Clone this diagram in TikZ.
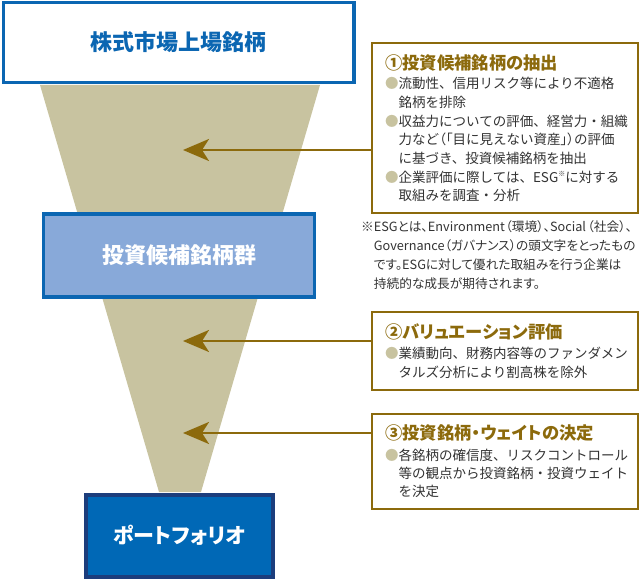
\documentclass[tikz,border=0pt]{standalone}
\usepackage{fontspec}
\usetikzlibrary{arrows.meta}
\newfontfamily\cjk{Noto Sans CJK JP}
\newfontfamily\cjkp{Noto Sans CJK JP}[RawFeature=+palt]
\definecolor{topblue}{HTML}{0B66B2}
\definecolor{midfill}{HTML}{88A9D9}
\definecolor{botfill}{HTML}{0068B6}
\definecolor{botborder}{HTML}{1C3D7C}
\definecolor{funnelc}{HTML}{C8C3A0}
\definecolor{gold}{HTML}{8C6A0C}
\definecolor{txt}{HTML}{333333}
\definecolor{bul}{HTML}{C8C3A0}
\begin{document}
\begin{tikzpicture}[x=1pt,y=-1pt,
  mainbox/.style={rectangle, inner sep=0pt, font=\cjkp\bfseries\fontsize{22}{24}\selectfont},
  infobox/.style={rectangle, draw=gold, line width=2pt, fill=white, inner sep=0pt, minimum width=266.3pt},
  ttl/.style={anchor=west, inner sep=0pt, text=gold, font=\cjkp\bfseries\fontsize{17.3}{20}\selectfont, text height=15.2pt, text depth=2pt},
  body/.style={anchor=west, inner sep=0pt, text=txt, font=\cjk\fontsize{13.5}{16}\selectfont, text height=11.9pt, text depth=1.6pt},
  note/.style={anchor=west, inner sep=0pt, text=txt, font=\cjkp\fontsize{12.7}{15}\selectfont, text height=11.2pt, text depth=1.5pt},
  arr/.style={draw=gold, line width=2.6pt, -{Stealth[length=26pt, width=22pt, inset=7pt]}}
]
\useasboundingbox (0,0) rectangle (640,580);
% funnel
\fill[funnelc] (40,85) -- (320,85) -- (201,492) -- (159,492) -- cycle;

% main boxes
\node[mainbox, draw=topblue, line width=3.3pt, fill=white, text=topblue,
  minimum width=350.7pt, minimum height=79.8pt] (top) at (178.65,42.6) {株式市場上場銘柄};
\node[mainbox, draw=topblue, line width=3.5pt, fill=midfill, text=white,
  minimum width=271.4pt, minimum height=83pt] (mid) at (179,255.5) {投資候補銘柄群};
\node[mainbox, draw=botborder, line width=4pt, fill=botfill, text=white,
  minimum width=187pt, minimum height=82.5pt, font=\cjkp\bfseries\fontsize{21}{24}\selectfont] (bot) at (179.5,535.75) {ポートフォリオ};

% info boxes
\node[infobox, minimum height=170.3pt] (b1) at (504.85,127.85) {};
\node[infobox, minimum height=78.5pt] (b2) at (504.85,350.75) {};
\node[infobox, minimum height=95pt] (b3) at (504.85,461.5) {};

% arrows
\coordinate (t1) at (183,150);
\coordinate (t2) at (183,341);
\coordinate (t3) at (183,433);
\draw[arr] (b1.west |- t1) -- (t1);
\draw[arr] (b2.west |- t2) -- (t2);
\draw[arr] (b3.west |- t3) -- (t3);

% box 1 text
\node[ttl] (h1) at (385,63) {①投資候補銘柄の抽出};
\node[body] (a1) at (385,83.5) {\textcolor{bul}{●}流動性、信用リスク等により不適格};
\node[body] (a2) at (385,102.2) {\phantom{●}銘柄を排除};
\node[body] (a3) at (385,120.9) {\textcolor{bul}{●}収益力についての評価、経営力・組織};
\node[body] (a4) at (385,139.6) {\phantom{●}力など{\addfontfeatures{RawFeature=+palt}（「}目に見えない資産{\addfontfeatures{RawFeature=+palt}」）}の評価};
\node[body] (a5) at (385,158.3) {\phantom{●}に基づき、投資候補銘柄を抽出};
\node[body] (a6) at (385,177) {\textcolor{bul}{●}企業評価に際しては、ESG\raisebox{0.45em}{\fontsize{7}{8}\selectfont ※}に対する};
\node[body] (a7) at (385,195.7) {\phantom{●}取組みを調査・分析};

% footnote
\node[note] (n1) at (361,227) {※ESGとは、Environment\kern0.8pt（環境）、Social\kern1.5pt（社会）、};
\node[note] (n2) at (361,246) {\phantom{※}Governance（ガバナンス）の頭文字をとったもの};
\node[note] (n3) at (361,265) {\phantom{※}です。ESGに対して優れた取組みを行う企業は};
\node[note] (n4) at (361,284) {\phantom{※}持続的な成長が期待されます。};

% box 2 text
\node[ttl] (h2) at (385,332) {②バリュエーション評価};
\node[body] (c1) at (385,353) {\textcolor{bul}{●}業績動向、財務内容等のファンダメン};
\node[body] (c2) at (385,372) {\phantom{●}タルズ分析により割高株を除外};

% box 3 text
\node[ttl] (h3) at (385,433) {③投資銘柄・ウェイトの決定};
\node[body] (d1) at (385,455) {\textcolor{bul}{●}各銘柄の確信度、リスクコントロール};
\node[body] (d2) at (385,473) {\phantom{●}等の観点から投資銘柄・投資ウェイト};
\node[body] (d3) at (385,491) {\phantom{●}を決定};
\end{tikzpicture}
\end{document}
